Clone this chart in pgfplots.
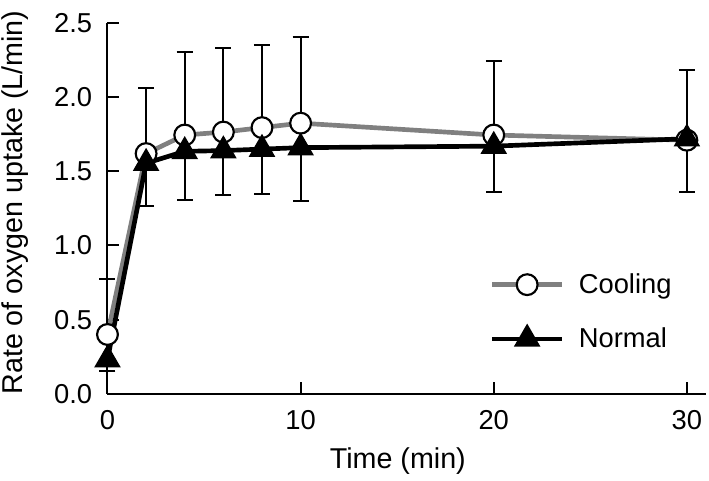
\documentclass[border=0pt]{standalone}
\usepackage{pgfplots}
\pgfplotsset{compat=1.18}
\usepackage{fontspec}
\setmainfont{Liberation Sans}
\definecolor{coolgray}{RGB}{128,128,128}
\begin{document}
\begin{tikzpicture}
\begin{axis}[
  scale only axis, width=449pt, height=278pt,
  xmin=0, xmax=31, ymin=0, ymax=2.5,
  clip=false,
  axis x line*=bottom, axis y line*=left,
  axis line style={line width=1.5pt, black},
  xtick={0,10,20,30}, ytick={0,0.5,1,1.5,2,2.5},
  tick align=inside, major tick length=9pt,
  every tick/.style={line width=1.5pt, black},
  /pgf/number format/assume math mode=true,
  yticklabel style={xshift=-8pt, /pgf/number format/fixed, /pgf/number format/fixed zerofill, /pgf/number format/precision=1},
  every tick label/.append style={font=\fontsize{20.5}{24}\selectfont},
  xticklabel style={yshift=-9pt},
  xlabel={Time (min)}, ylabel={Rate of oxygen uptake (L/min)},
  label style={font=\fontsize{21.5}{25}\selectfont},
  x label style={at={(axis description cs:0.485,-0.181)}, anchor=center},
  y label style={at={(axis description cs:-0.155,0.516)}, anchor=center},
  legend style={draw=none, fill=none, inner sep=0pt, at={(axis cs:19.8,0.553)}, anchor=west,
    font=\fontsize{20.5}{24}\selectfont, row sep=20pt, column sep=9pt},
  legend cell align=left,
  legend image code/.code={\draw[mark repeat=2,mark phase=2,#1] plot coordinates {(0pt,0pt) (26pt,0pt) (52pt,0pt)};},
]
\addplot[color=coolgray, line width=3.5pt, mark=*, mark size=7.8pt,
  mark options={fill=white, draw=black, line width=1.6pt},
  error bars/.cd, y dir=plus, y explicit,
  error bar style={line width=1.5pt, black},
  error mark options={rotate=90, mark size=6pt, line width=1.5pt, black}]
coordinates {
 (0,0.40) +- (0,0.375)
 (2,1.62) +- (0,0.445)
 (4,1.745) +- (0,0.56)
 (6,1.765) +- (0,0.565)
 (8,1.795) +- (0,0.56)
 (10,1.825) +- (0,0.58)
 (20,1.745) +- (0,0.50)
 (30,1.71) +- (0,0.475)
};
\addlegendentry{Cooling}
\addplot[color=black, line width=3.5pt, mark=triangle*, mark size=10.5pt,
  mark options={fill=black, draw=black, line width=1pt},
  error bars/.cd, y dir=minus, y explicit,
  error bar style={line width=1.5pt, black},
  error mark options={rotate=90, mark size=6pt, line width=1.5pt, black}]
coordinates {
 (0,0.23) +- (0,0.075)
 (2,1.555) +- (0,0.29)
 (4,1.635) +- (0,0.33)
 (6,1.64) +- (0,0.30)
 (8,1.65) +- (0,0.30)
 (10,1.66) +- (0,0.36)
 (20,1.67) +- (0,0.31)
 (30,1.72) +- (0,0.36)
};
\addlegendentry{Normal}
\end{axis}
\pgfresetboundingbox
\useasboundingbox (-80.6pt,-64.7pt) rectangle (451.1pt,295.3pt);
\end{tikzpicture}
\end{document}
